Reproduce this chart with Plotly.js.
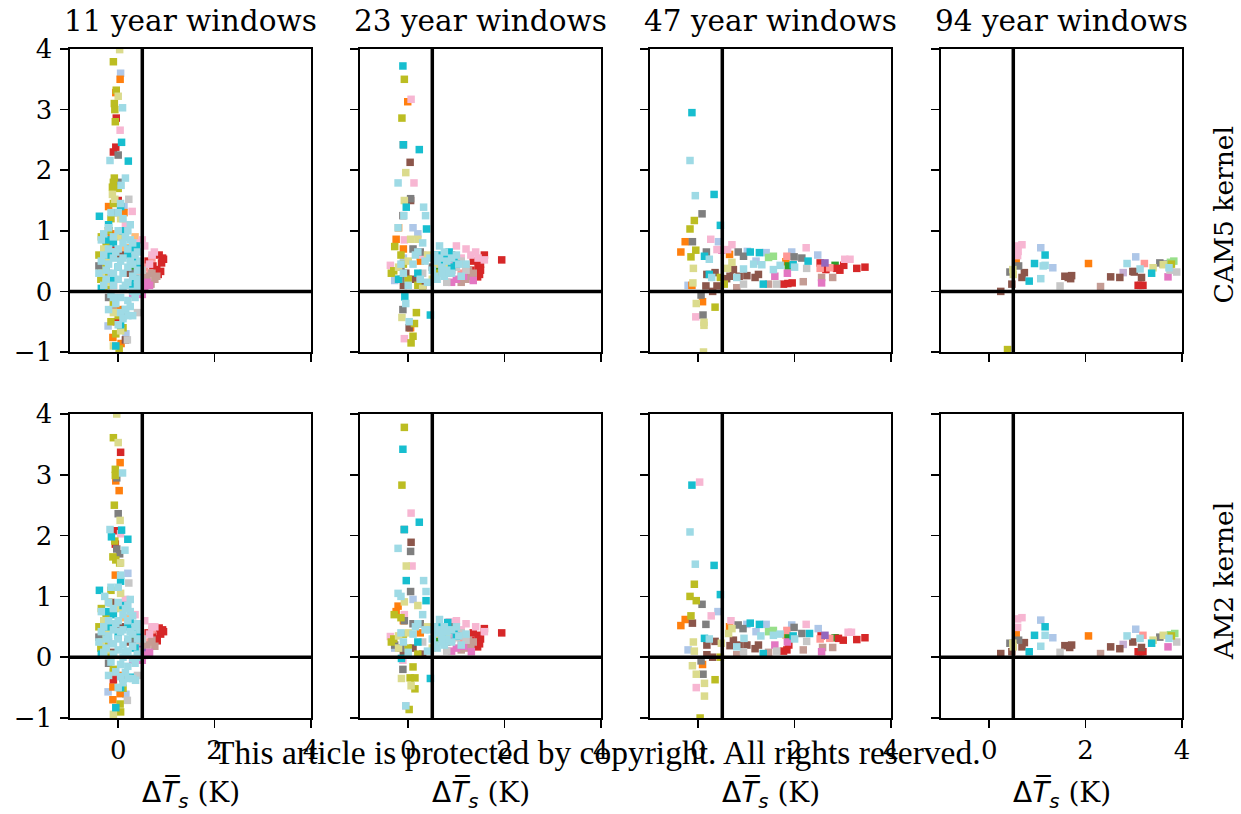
<!DOCTYPE html>
<html><head><meta charset="utf-8">
<script src="https://cdn.plot.ly/plotly-3.0.1.min.js"></script>
<style>html,body{margin:0;padding:0;background:#fff}#chart{width:1241px;height:814px}</style>
</head><body><div id="chart"></div>
<script>
// tab20 palette, one colour per model
const palette = ['#1f77b4','#aec7e8','#ff7f0e','#ffbb78','#2ca02c','#98df8a','#d62728','#ff9896','#9467bd','#c5b0d5',
                 '#8c564b','#c49c94','#e377c2','#f7b6d2','#7f7f7f','#c7c7c7','#bcbd22','#dbdb8d','#17becf','#9edae5'];
const windowTitles = ['11 year windows','23 year windows','47 year windows','94 year windows'];
const kernelLabels = ['CAM5 kernel','AM2 kernel'];
const xTickVals = [0,2,4];
const yTickVals = [-1,0,1,2,3,4];
const axisRange = [-1,4];
const thresholdX = 0.5;
const thresholdY = 0;
const xLabel = '<span style="font-family:DejaVu Sans">Δ<i>T̅</i><sub><i>s</i></sub></span> (K)';
const watermark = 'This article is protected by copyright. All rights reserved.';

// points: [model index, ΔTs, y]
const cam5_w11 = [
[1,0.05,3.6],[1,-0.21,-0.57],[1,0.16,-0.7],[1,0.12,1.4],[1,-0.2,0.3],[1,0.3,0.5],[1,-0.25,0.05],
[2,0.04,3.5],[2,-0.05,3.28],[2,-0.11,-0.76],[2,0.06,-0.86],[2,-0.15,0.95],[2,0.12,1.3],[2,0.0,-0.3],[2,-0.3,0.2],[2,-0.2,1.4],
[3,0.15,0.72],[3,0.35,0.9],[4,0.3,0.4],[5,0.35,0.48],
[6,-0.04,2.86],[6,-0.05,2.38],[6,-0.1,2.3],[6,0.94,0.53],[6,0.9,0.47],[6,0.85,0.6],[6,0.83,0.28],[6,0.72,0.42],[6,-0.04,-0.5],[6,0.8,0.36],[6,0.62,0.5],[6,0.0,1.5],[6,-0.12,0.75],[6,0.92,0.55],[6,0.88,0.33],
[7,0.7,0.55],[7,0.66,0.3],[7,0.55,0.4],[8,0.5,0.2],[9,0.45,0.1],
[10,-0.1,0.1],[10,0.1,-0.4],[10,0.05,0.6],[10,0.2,0.3],[10,0.15,-0.8],[10,-0.2,1.0],
[11,0.76,0.2],[11,0.7,0.3],[11,-0.1,-0.3],[11,0.6,0.25],[11,0.68,0.12],[11,0.8,0.25],
[12,0.55,0.05],[12,0.65,0.1],[12,0.5,-0.05],[12,0.6,0.15],[12,0.3,-0.05],
[13,0.04,2.66],[13,0.29,1.32],[13,0.75,0.65],[13,0.55,0.75],[13,0.65,0.45],[13,0.35,0.8],[13,-0.3,0.5],[13,0.15,1.1],[13,0.5,0.85],[13,0.7,0.6],
[14,0.0,2.25],[14,-0.4,0.42],[14,-0.36,0.34],[14,-0.3,0.6],[14,0.0,1.8],[14,0.1,0.9],[14,0.3,0.3],[14,-0.2,-0.1],[14,-0.05,1.3],
[15,0.22,1.52],[15,0.19,-0.8],[15,0.4,-0.35],[15,0.45,0.3],[15,0.4,0.12],[15,0.5,0.35],[15,0.32,0.05],
[16,-0.1,3.79],[16,-0.04,3.32],[16,-0.08,3.1],[16,-0.07,3.0],[16,-0.06,2.8],[16,-0.08,1.87],[16,-0.1,1.8],[16,-0.12,1.72],[16,0.0,1.7],[16,-0.1,1.45],[16,-0.15,1.2],[16,-0.2,1.0],[16,-0.25,0.8],[16,-0.3,0.3],[16,-0.36,0.2],[16,-0.2,0.1],[16,-0.1,-0.2],[16,0.1,-0.6],[16,-0.05,-0.7],[16,0.0,-0.4],[16,-0.3,0.05],[16,-0.1,0.6],[16,-0.25,0.4],[16,0.02,-0.95],[16,-0.4,0.6],[16,-0.35,0.9],[16,-0.15,-0.5],
[17,0.03,3.99],[17,0.0,3.22],[17,-0.07,1.52],[17,-0.1,-0.9],[17,-0.15,0.65],[17,-0.22,0.5],[17,0.05,1.2],[17,-0.25,0.15],[17,0.0,0.9],[17,-0.1,-0.35],[17,-0.3,0.7],[17,-0.12,1.6],[17,-0.35,0.3],[17,0.05,-0.65],
[18,0.07,2.46],[18,0.21,2.15],[18,-0.39,1.24],[18,-0.05,-0.9],[18,0.1,1.0],[18,-0.1,0.8],[18,0.2,0.6],[18,0.3,0.55],[18,0.35,0.2],[18,-0.2,0.6],[18,-0.35,0.05],[18,0.15,-0.3],[18,0.0,0.4],[18,0.05,-0.55],[18,0.25,0.7],[18,0.05,1.4],[18,-0.2,1.1],[18,0.38,0.75],[18,-0.25,0.85],[18,0.45,0.4],[18,0.3,0.1],[18,-0.1,0.2],
[19,-0.17,2.16],[19,0.09,3.03],[19,0.15,1.87],[19,0.06,1.75],[19,0.05,1.45],[19,0.1,1.2],[19,-0.2,1.05],[19,-0.3,0.95],[19,-0.35,0.85],[19,0.0,1.0],[19,0.2,1.0],[19,0.25,0.85],[19,-0.1,0.9],[19,0.1,0.8],[19,-0.2,0.7],[19,0.0,0.7],[19,0.2,0.7],[19,0.35,0.6],[19,-0.3,0.6],[19,-0.1,0.55],[19,0.1,0.55],[19,0.3,0.45],[19,-0.2,0.45],[19,0.0,0.4],[19,0.2,0.4],[19,0.4,0.35],[19,-0.1,0.3],[19,0.1,0.3],[19,0.3,0.25],[19,-0.25,0.2],[19,0.0,0.2],[19,0.2,0.15],[19,0.4,0.1],[19,-0.1,0.1],[19,0.1,0.05],[19,0.3,0.0],[19,-0.15,-0.05],[19,0.05,-0.1],[19,0.2,-0.15],[19,-0.05,-0.2],[19,0.15,-0.3],[19,0.25,-0.25],[19,0.05,-0.35],[19,0.1,-0.45],[19,-0.1,-0.1],[19,0.4,0.2],[19,0.45,0.5],[19,0.4,0.65],
[19,-0.4,0.3],[19,-0.35,0.5],[19,0.45,0.0],[19,0.35,-0.1],[19,-0.3,0.1],[19,0.25,1.1],[19,-0.15,1.3],[19,0.0,1.3],[19,0.15,0.9],[19,-0.05,0.65],[19,0.3,0.8],[19,-0.25,0.35],[19,0.05,0.5],[19,0.15,0.1],[19,0.25,0.5],[19,0.2,-0.4],[19,0.0,-0.55],[19,0.3,-0.4],[19,-0.2,-0.3]
];
const cam5_w23 = [
[1,0.1,1.05],[1,-0.28,0.18],[1,0.2,0.95],[1,0.6,0.45],[1,0.9,0.55],[1,-0.1,0.55],
[2,-0.01,3.13],[2,-0.2,1.05],[2,-0.25,0.86],[2,-0.1,0.7],[2,0.05,-0.6],[2,0.25,0.5],
[4,0.6,0.35],[5,0.55,0.55],[5,0.7,0.4],
[6,1.94,0.52],[6,1.58,0.6],[6,1.45,0.4],[6,1.44,0.24],[6,1.5,0.45],[6,1.35,0.5],[6,0.65,0.45],[6,1.3,0.35],[6,1.2,0.3],[6,1.5,0.35],[6,1.48,0.28],
[7,1.2,0.4],[7,1.1,0.3],[8,0.9,0.35],[9,0.95,0.45],
[10,0.04,2.13],[10,0.05,1.5],[10,0.02,-0.6],[10,0.1,0.2],[10,-0.1,0.1],[10,0.3,0.1],[10,0.8,0.3],[10,-0.05,0.3],
[11,1.2,0.2],[11,1.3,0.25],[11,1.1,0.15],[11,1.35,0.3],[11,1.25,0.35],
[12,1.35,0.18],[12,1.0,0.2],[12,0.9,0.15],[12,1.15,0.25],
[13,0.06,3.17],[13,0.12,1.79],[13,-0.37,0.43],[13,1.58,0.52],[13,1.2,0.7],[13,1.0,0.75],[13,1.3,0.6],[13,-0.08,0.85],[13,-0.08,-0.78],[13,0.3,0.6],[13,1.45,0.55],[13,1.1,0.55],[13,1.4,0.65],
[14,-0.1,2.42],[14,0.05,1.53],[14,-0.11,1.25],[14,-0.11,-0.3],[14,0.25,0.65],[14,0.7,0.55],[14,-0.15,0.4],[14,0.1,0.7],[14,0.5,0.4],[14,0.9,0.6],[14,-0.15,0.2],
[15,1.0,0.4],[15,0.8,0.15],[15,1.1,0.5],[15,0.3,0.3],[15,1.2,0.35],
[16,-0.08,3.5],[16,-0.13,2.86],[16,-0.28,0.74],[16,-0.3,0.34],[16,0.17,-0.35],[16,0.13,-0.53],[16,0.1,-0.74],[16,0.06,-0.85],[16,-0.15,0.6],[16,0.0,0.2],[16,0.2,0.1],[16,0.6,0.3],[16,-0.35,0.3],[16,-0.1,0.45],
[17,-0.05,1.96],[17,-0.08,1.5],[17,0.05,0.86],[17,0.2,0.86],[17,-0.13,-0.43],[17,-0.2,0.4],[17,0.0,0.5],[17,0.8,0.4],[17,0.5,0.2],[17,0.3,0.05],[17,0.6,0.45],[17,0.4,0.6],[17,-0.2,0.2],
[18,-0.11,3.72],[18,-0.1,2.42],[18,0.23,2.34],[18,-0.04,1.39],[18,0.38,1.03],[18,-0.07,-0.09],[18,0.46,-0.39],[18,0.95,0.55],[18,0.85,0.65],[18,0.2,0.3],[18,-0.2,0.2],[18,0.6,0.6],[18,0.9,0.4],[18,0.7,0.5],[18,1.0,0.45],[18,0.8,0.6],
[19,-0.21,1.79],[19,0.32,1.39],[19,-0.09,1.25],[19,0.36,1.25],[19,-0.21,1.05],[19,0.15,0.6],[19,0.35,0.5],[19,0.55,0.6],[19,0.6,0.2],[19,0.7,0.4],[19,0.8,0.5],[19,0.75,0.25],[19,1.0,0.6],[19,0.9,0.3],[19,0.5,0.35],[19,0.4,0.15],[19,1.1,0.25],[19,0.65,0.75],[19,0.02,-0.5],[19,-0.05,-0.2],[19,0.3,0.8],[19,0.1,0.45],[19,-0.1,0.3],[19,1.2,0.45],
[19,0.6,0.5],[19,0.8,0.35],[19,0.9,0.55],[19,0.7,0.3],[19,0.55,0.25],[19,0.65,0.55],[19,1.05,0.45],[19,0.45,0.55],[19,0.75,0.65],[19,-0.15,0.45],[19,0.2,0.65],[19,0.0,0.1],[19,0.25,0.2]
];
const cam5_w47 = [
[1,0.42,0.82],[1,-0.21,0.1],[1,2.48,0.6],[1,1.94,0.65],[1,1.41,0.64],[1,1.02,0.66],[1,1.2,0.5],
[2,-0.27,0.82],[2,-0.36,0.65],[2,-0.13,0.1],[2,0.09,-0.17],[2,1.82,0.49],[2,0.65,0.61],
[4,2.84,0.43],[4,1.87,0.42],[5,1.56,0.58],[5,1.46,0.56],
[6,3.46,0.4],[6,3.29,0.38],[6,3.02,0.43],[6,2.94,0.35],[6,2.87,0.38],[6,2.53,0.47],[6,2.65,0.36],[6,1.86,0.13],[6,1.77,0.12],[6,1.95,0.14],
[7,2.53,0.38],[7,2.73,0.39],[7,1.84,0.58],[8,2.63,0.47],
[10,1.01,0.26],[10,1.18,0.23],[10,1.25,0.28],[10,0.66,0.25],[10,0.59,0.21],[10,0.73,0.36],[10,0.35,0.31],[10,0.18,0.28],[10,0.16,0.09],[10,0.3,0.0],[10,0.39,0.09],[10,0.85,0.25],
[11,2.79,0.23],[11,2.56,0.23],[11,2.18,0.16],[11,1.46,0.12],[11,0.8,0.06],
[12,2.56,0.14],[12,1.59,0.25],[12,0.49,0.68],[12,1.85,0.3],
[13,-0.05,-0.42],[13,0.26,0.86],[13,0.7,0.77],[13,3.15,0.53],[13,3.04,0.53],[13,2.24,0.72],[13,0.39,0.69],[13,0.61,0.69],
[14,0.08,1.28],[14,-0.12,0.82],[14,0.06,-0.06],[14,0.1,-0.39],[14,1.99,0.57],[14,2.15,0.55],[14,0.94,0.58],[14,0.83,0.65],[14,0.17,0.65],
[15,2.25,0.38],[15,1.63,0.12],[15,0.94,0.12],
[16,-0.08,1.17],[16,-0.17,1.03],[16,-0.05,0.68],[16,-0.15,0.57],[16,0.35,-0.26],[16,0.54,0.12],[16,0.46,0.23],
[17,-0.1,0.38],[17,-0.11,0.14],[17,-0.04,-0.2],[17,0.12,-0.51],[17,0.12,-0.56],[17,0.11,-1.0],[17,0.7,0.48],[17,0.61,0.38],
[18,-0.13,2.95],[18,0.33,1.6],[18,0.46,1.09],[18,2.28,0.5],[18,1.97,0.44],[18,1.35,0.12],[18,1.27,0.64],[18,1.08,0.65],[18,0.23,0.28],[18,0.13,0.58],
[19,-0.17,2.16],[19,-0.06,1.58],[19,1.32,0.44],[19,0.94,0.37],[19,0.8,0.23],[19,0.28,0.23],[19,0.23,0.53],[19,1.56,0.36],[19,1.7,0.43],[19,2.0,0.4],[19,1.15,0.45]
];
const cam5_w94 = [
[1,1.07,0.72],[1,1.32,0.39],[1,3.04,0.57],
[2,0.56,0.51],[2,2.06,0.46],
[5,3.76,0.48],[5,3.83,0.5],
[6,3.09,0.1],[6,3.19,0.1],[6,3.14,0.1],
[7,3.22,0.46],[9,2.78,0.31],
[10,0.24,0.0],[10,0.47,0.12],[10,0.73,0.31],[10,0.68,0.23],[10,1.57,0.25],[10,1.71,0.26],[10,1.69,0.21],[10,1.64,0.23],[10,2.52,0.24],[10,2.71,0.23],[10,2.98,0.33],[10,3.01,0.32],[10,3.16,0.23],
[11,2.31,0.08],[12,3.71,0.24],
[13,0.68,0.77],[13,0.59,0.75],[13,0.6,0.66],[13,0.59,0.59],
[14,0.61,0.42],[14,0.43,0.32],[14,3.54,0.47],[14,3.61,0.45],
[15,1.47,0.09],[15,3.89,0.32],[15,3.75,0.35],
[16,0.38,-0.96],[16,3.78,0.45],
[17,0.49,0.36],[17,0.5,0.28],[17,3.4,0.39],[17,3.61,0.44],
[18,0.83,0.17],[18,0.94,0.46],[18,1.16,0.6],[18,3.37,0.3],
[19,1.16,0.43],[19,1.12,0.42],[19,1.07,0.21],[19,2.86,0.46],[19,3.13,0.37],[19,3.73,0.39]
];
const am2_w11 = [
[1,0.2,1.38],[1,-0.21,-0.57],[1,0.16,-0.61],[1,-0.2,0.25],[1,0.3,0.45],[1,-0.25,0.05],
[2,0.04,3.2],[2,-0.05,2.9],[2,0.02,2.74],[2,-0.06,1.35],[2,-0.11,-0.7],[2,-0.11,-0.49],[2,0.04,-0.6],[2,-0.3,0.15],[2,0.0,-0.3],
[3,0.15,0.65],[4,0.3,0.35],[5,0.35,0.4],
[6,0.05,3.37],[6,-0.05,2.08],[6,-0.06,1.86],[6,0.94,0.42],[6,0.88,0.38],[6,0.85,0.48],[6,0.81,0.27],[6,0.72,0.35],[6,-0.1,-0.37],[6,0.78,0.3],[6,0.62,0.4],[6,0.92,0.45],
[7,0.7,0.45],[7,0.66,0.25],[8,0.5,0.15],[9,0.45,0.08],
[10,-0.1,0.08],[10,0.1,-0.35],[10,0.05,0.5],[10,0.2,0.25],[10,-0.15,0.9],
[11,0.76,0.18],[11,0.7,0.28],[11,-0.1,-0.25],[11,0.6,0.2],
[12,0.55,0.03],[12,0.65,0.08],[12,0.5,-0.05],[12,0.3,-0.05],
[13,0.05,2.03],[13,0.76,0.5],[13,0.55,0.6],[13,0.65,0.38],[13,0.35,0.7],[13,-0.3,0.4],[13,0.15,0.95],[13,0.7,0.5],
[14,0.0,2.36],[14,-0.03,2.95],[14,-0.03,1.78],[14,0.03,1.7],[14,-0.4,0.33],[14,-0.36,0.27],[14,-0.3,0.5],[14,0.3,0.25],[14,-0.2,-0.1],
[15,0.22,1.22],[15,0.19,-0.71],[15,0.4,-0.3],[15,0.45,0.25],[15,0.4,0.1],[15,0.5,0.3],
[16,-0.1,3.61],[16,-0.06,3.09],[16,-0.06,2.99],[16,-0.08,2.5],[16,-0.07,1.91],[16,-0.11,1.65],[16,-0.05,1.6],[16,0.03,1.55],[16,-0.15,1.1],[16,-0.2,0.9],[16,-0.25,0.7],[16,-0.3,0.25],[16,-0.36,0.15],[16,-0.2,0.05],[16,-0.1,-0.2],[16,0.1,-0.51],[16,0.04,-0.77],[16,0.05,-0.9],[16,-0.3,0.05],[16,-0.25,0.35],[16,-0.4,0.5],[16,-0.35,0.8],
[17,-0.03,4.0],[17,0.0,3.53],[17,0.04,2.25],[17,0.05,1.55],[17,-0.1,-0.94],[17,-0.15,0.55],[17,-0.22,0.45],[17,0.05,1.05],[17,-0.25,0.12],[17,0.0,0.8],[17,-0.3,0.6],[17,-0.35,0.25],
[18,0.07,2.09],[18,-0.14,1.98],[18,0.2,1.94],[18,-0.39,1.1],[18,-0.05,-0.83],[18,0.25,-0.33],[18,0.1,0.85],[18,-0.1,0.7],[18,0.2,0.5],[18,0.3,0.45],[18,0.35,0.15],[18,-0.2,0.5],[18,-0.35,0.05],[18,0.0,0.35],[18,0.05,-0.5],[18,0.25,0.6],[18,0.05,1.25],[18,-0.25,0.75],[18,0.45,0.35],
[19,-0.17,2.1],[19,0.09,3.03],[19,0.14,1.76],[19,0.05,1.35],[19,-0.28,1.0],[19,-0.2,0.9],[19,-0.35,0.75],[19,0.0,0.9],[19,0.2,0.85],[19,0.25,0.75],[19,-0.1,0.8],[19,0.1,0.7],[19,-0.2,0.6],[19,0.0,0.6],[19,0.2,0.6],[19,0.35,0.5],[19,-0.3,0.5],[19,-0.1,0.45],[19,0.1,0.45],[19,0.3,0.38],[19,-0.2,0.35],[19,0.0,0.3],[19,0.2,0.3],[19,0.4,0.3],[19,-0.1,0.22],[19,0.1,0.2],[19,0.3,0.18],[19,-0.25,0.15],[19,0.0,0.12],[19,0.2,0.1],[19,0.4,0.05],[19,-0.1,0.05],[19,0.1,0.0],[19,0.3,-0.02],[19,-0.15,-0.08],[19,0.05,-0.12],[19,0.2,-0.15],[19,-0.05,-0.24],[19,0.15,-0.25],[19,0.36,-0.38],[19,0.05,-0.32],[19,0.1,-0.42],[19,0.45,0.45],[19,0.4,0.55],
[19,-0.4,0.25],[19,-0.35,0.42],[19,0.45,0.0],[19,0.35,-0.1],[19,-0.3,0.08],[19,0.25,0.95],[19,-0.15,1.15],[19,0.0,1.15],[19,0.15,0.8],[19,-0.05,0.55],[19,0.3,0.68],[19,-0.25,0.3],[19,0.05,0.42],[19,0.15,0.08],[19,0.25,0.42],[19,0.2,-0.35],[19,0.0,-0.5],[19,0.3,-0.35],[19,-0.2,-0.3]
];
const am2_w23 = [
[1,0.1,0.95],[1,-0.28,0.15],[1,0.55,0.5],[1,0.9,0.45],
[2,-0.21,0.84],[2,-0.25,0.75],[2,-0.1,0.6],[2,0.25,0.4],
[4,0.6,0.3],[5,0.55,0.48],[5,0.7,0.35],
[6,1.94,0.4],[6,1.58,0.47],[6,1.45,0.36],[6,1.44,0.17],[6,1.5,0.3],[6,1.35,0.4],[6,0.65,0.38],[6,1.3,0.28],[6,1.2,0.22],[6,1.48,0.22],
[7,1.2,0.32],[7,1.1,0.25],[8,0.9,0.3],[9,0.95,0.38],
[10,0.06,1.89],[10,0.1,0.15],[10,-0.1,0.08],[10,0.3,0.05],[10,0.8,0.25],
[11,1.2,0.15],[11,1.3,0.2],[11,1.1,0.12],[11,1.35,0.25],[11,1.25,0.28],
[12,1.31,0.09],[12,1.0,0.15],[12,0.9,0.1],[12,1.15,0.18],
[13,0.06,2.37],[13,0.08,1.5],[13,-0.37,0.34],[13,1.58,0.42],[13,1.2,0.55],[13,1.0,0.6],[13,0.85,0.58],[13,-0.08,0.7],[13,-0.05,-0.8],[13,-0.11,-0.05],[13,1.1,0.45],[13,1.4,0.5],
[14,-0.08,2.1],[14,0.05,1.74],[14,0.05,1.08],[14,-0.08,0.6],[14,-0.28,0.2],[14,-0.15,0.15],[14,-0.11,-0.2],[14,0.25,0.55],[14,0.7,0.45],[14,0.1,0.55],[14,0.9,0.5],
[15,1.0,0.32],[15,0.8,0.1],[15,1.1,0.4],[15,0.3,0.25],[15,1.2,0.28],
[16,-0.08,3.78],[16,-0.13,2.83],[16,-0.29,0.7],[16,-0.15,0.65],[16,-0.3,0.3],[16,0.04,-0.34],[16,0.14,-0.34],[16,0.14,-0.52],[16,0.02,-0.86],[16,0.1,-0.16],[16,0.0,0.15],[16,0.2,0.05],[16,-0.35,0.25],[16,-0.1,0.38],
[17,-0.04,1.5],[17,-0.08,0.91],[17,0.2,0.85],[17,-0.14,-0.35],[17,0.06,-0.47],[17,-0.2,0.35],[17,0.0,0.4],[17,0.8,0.35],[17,0.5,0.15],[17,0.6,0.38],[17,0.4,0.5],[17,-0.2,0.15],
[18,-0.11,3.42],[18,-0.08,2.1],[18,0.23,2.22],[18,-0.04,1.26],[18,0.37,0.93],[18,-0.14,-0.02],[18,0.46,-0.35],[18,0.82,0.57],[18,0.95,0.45],[18,0.2,0.25],[18,0.6,0.5],[18,0.7,0.4],[18,1.0,0.35],[18,0.8,0.5],
[19,-0.21,1.79],[19,0.32,1.26],[19,-0.21,1.05],[19,0.37,1.08],[19,-0.15,1.0],[19,0.15,0.5],[19,0.35,0.45],[19,0.55,0.5],[19,0.6,0.15],[19,0.7,0.35],[19,0.8,0.42],[19,0.75,0.2],[19,1.0,0.5],[19,0.9,0.25],[19,0.5,0.3],[19,0.4,0.1],[19,1.1,0.2],[19,0.65,0.62],[19,-0.05,-0.8],[19,0.3,0.7],[19,0.1,0.38],[19,-0.1,0.25],[19,1.2,0.38],
[19,0.6,0.4],[19,0.8,0.3],[19,0.9,0.45],[19,0.7,0.25],[19,0.55,0.2],[19,0.65,0.45],[19,1.05,0.35],[19,0.45,0.45],[19,0.75,0.5],[19,-0.15,0.4],[19,0.2,0.55],[19,0.0,0.08]
];
const am2_w47 = [
[1,0.41,0.75],[1,-0.21,0.12],[1,2.49,0.47],[1,1.94,0.53],[1,1.41,0.54],[1,1.01,0.54],[1,1.2,0.42],
[2,-0.27,0.62],[2,-0.36,0.52],[2,0.09,-0.12],[2,1.82,0.37],[2,0.65,0.5],
[4,2.84,0.32],[4,1.87,0.33],[5,1.56,0.44],[5,1.46,0.42],
[6,3.46,0.32],[6,3.29,0.29],[6,3.01,0.28],[6,2.91,0.31],[6,2.55,0.35],[6,1.84,0.12],[6,1.77,0.1],[6,1.88,0.2],
[7,2.53,0.3],[7,2.73,0.31],[7,1.84,0.44],[8,2.63,0.36],
[10,-0.12,0.56],[10,1.01,0.2],[10,1.18,0.14],[10,1.25,0.2],[10,0.66,0.19],[10,0.73,0.28],[10,0.35,0.26],[10,0.18,0.2],[10,0.18,0.04],[10,0.3,0.0],[10,0.85,0.2],
[11,2.79,0.16],[11,2.58,0.16],[11,2.18,0.12],[11,0.8,0.04],[11,1.46,0.08],
[12,2.56,0.09],[12,1.59,0.2],[12,1.85,0.25],
[13,0.03,2.88],[13,-0.04,-0.5],[13,0.27,0.68],[13,0.68,0.6],[13,3.11,0.41],[13,3.18,0.41],[13,2.24,0.54],
[14,0.08,0.87],[14,0.16,0.54],[14,0.06,-0.06],[14,0.1,-0.28],[14,1.99,0.49],[14,2.15,0.39],[14,0.93,0.47],[14,0.83,0.53],
[15,2.25,0.26],[15,0.94,0.09],[15,1.63,0.1],
[16,-0.08,1.2],[16,-0.17,1.0],[16,-0.04,0.93],[16,-0.15,0.68],[16,0.35,-0.37],[16,0.04,-1.0],[16,0.46,0.0],
[17,-0.1,0.25],[17,-0.08,0.1],[17,-0.12,-0.14],[17,-0.04,-0.28],[17,0.13,-0.43],[17,0.13,-0.64],[17,0.63,0.39],[17,0.7,0.47],[17,0.48,0.23],
[18,-0.13,2.83],[18,0.33,1.51],[18,0.46,1.03],[18,2.31,0.39],[18,1.35,0.06],[18,1.27,0.54],[18,1.08,0.56],[18,0.13,0.31],[18,1.97,0.35],
[19,-0.17,2.06],[19,-0.06,1.53],[19,0.95,0.31],[19,0.8,0.17],[19,0.23,0.3],[19,1.56,0.36],[19,1.7,0.38],[19,1.3,0.35],[19,2.0,0.3]
];
const am2_w94 = [
[1,1.07,0.61],[1,1.32,0.32],[1,3.04,0.46],
[2,0.56,0.38],[2,2.06,0.35],
[5,3.76,0.37],[5,3.85,0.39],
[6,3.09,0.09],[6,3.19,0.09],[6,3.14,0.09],
[7,3.19,0.36],[9,2.78,0.21],
[10,0.24,0.06],[10,0.47,0.09],[10,0.73,0.24],[10,0.68,0.17],[10,1.57,0.19],[10,1.71,0.2],[10,1.67,0.16],[10,2.52,0.17],[10,2.71,0.14],[10,2.98,0.25],[10,3.16,0.16],
[11,2.31,0.06],[12,3.71,0.17],
[13,0.68,0.65],[13,0.59,0.63],[13,0.59,0.49],
[14,0.61,0.28],[14,0.43,0.23],[14,3.54,0.33],
[15,1.47,0.08],[15,3.89,0.25],
[16,3.78,0.35],
[17,0.49,0.23],[17,0.5,0.17],[17,3.4,0.28],[17,3.61,0.36],
[18,0.83,0.09],[18,0.94,0.36],[18,1.16,0.5],[18,3.37,0.23],
[19,1.16,0.36],[19,1.07,0.18],[19,2.86,0.35],[19,3.13,0.31],[19,3.73,0.31]
];
const panels = [cam5_w11, cam5_w23, cam5_w47, cam5_w94, am2_w11, am2_w23, am2_w47, am2_w94];

// ---- layout geometry (pixels) ----
const W = 1241, H = 814;
const colPx = [[70,311],[360,601],[650,891],[941,1182]];
const rowPx = [[49,352],[414,718]];
const serif = 'DejaVu Serif';

const traces = [];
const layout = {
  width: W, height: H, margin: {l:0, r:0, t:0, b:0},
  paper_bgcolor: '#fff', plot_bgcolor: '#fff', showlegend: false,
  font: {family: serif, color: '#000'},
  shapes: [], annotations: []
};

panels.forEach((pts, i) => {
  const r = Math.floor(i / 4), c = i % 4;
  const n = i + 1;
  const xa = 'xaxis' + (n === 1 ? '' : n), ya = 'yaxis' + (n === 1 ? '' : n);
  const xr = 'x' + (n === 1 ? '' : n), yr = 'y' + (n === 1 ? '' : n);
  const sorted = pts.slice().sort((a, b) => a[0] - b[0]);
  traces.push({
    type: 'scatter', mode: 'markers', xaxis: xr, yaxis: yr,
    x: sorted.map(p => p[1]), y: sorted.map(p => p[2]),
    marker: {symbol: 'square', size: 7.5, color: sorted.map(p => palette[p[0]]), line: {width: 0}},
    hoverinfo: 'skip', cliponaxis: true
  });
  const common = {
    range: axisRange, showgrid: false, zeroline: false, showline: true, mirror: true,
    linecolor: '#000', linewidth: 1.6, ticks: 'outside', ticklen: 8, tickwidth: 1.6, tickcolor: '#000',
    tickfont: {family: serif, size: 26, color: '#000'}, fixedrange: true
  };
  layout[xa] = Object.assign({}, common, {
    domain: [colPx[c][0] / W, colPx[c][1] / W], anchor: yr,
    tickvals: xTickVals, showticklabels: r === 1
  });
  layout[ya] = Object.assign({}, common, {
    domain: [1 - rowPx[r][1] / H, 1 - rowPx[r][0] / H], anchor: xr,
    tickvals: yTickVals, showticklabels: c === 0, ticklabelstandoff: 3
  });
  layout.shapes.push({type: 'line', xref: xr, yref: yr + ' domain', x0: thresholdX, x1: thresholdX, y0: 0, y1: 1,
    line: {color: '#000', width: 3.5}, layer: 'above'});
  layout.shapes.push({type: 'line', xref: xr + ' domain', yref: yr, x0: 0, x1: 1, y0: thresholdY, y1: thresholdY,
    line: {color: '#000', width: 3.5}, layer: 'above'});
});

// column titles and x-axis titles
windowTitles.forEach((t, c) => {
  layout.annotations.push({text: t, xref: 'paper', yref: 'paper', showarrow: false,
    x: (colPx[c][0] + colPx[c][1]) / 2 / W, y: 1 - 21 / H, xanchor: 'center', yanchor: 'middle',
    font: {family: serif, size: 29.5, color: '#000'}});
  layout.annotations.push({text: xLabel, xref: 'paper', yref: 'paper', showarrow: false,
    x: (colPx[c][0] + colPx[c][1]) / 2 / W, y: 1 - 794 / H, xanchor: 'center', yanchor: 'middle',
    font: {family: serif, size: 28, color: '#000'}});
});
// row labels
kernelLabels.forEach((t, r) => {
  layout.annotations.push({text: t, xref: 'paper', yref: 'paper', showarrow: false, textangle: -90,
    x: 1223 / W, y: 1 - ((rowPx[r][0] + rowPx[r][1]) / 2 + 15) / H, xanchor: 'center', yanchor: 'middle',
    font: {family: serif, size: 26.5, color: '#000'}});
});
// watermark
layout.annotations.push({text: watermark, xref: 'paper', yref: 'paper', showarrow: false,
  x: 597 / W, y: 1 - 752 / H, xanchor: 'center', yanchor: 'middle',
  font: {family: 'Liberation Serif', size: 33.5, color: '#000'}});

Plotly.newPlot('chart', traces, layout, {staticPlot: true, displayModeBar: false});
</script>
</body></html>
